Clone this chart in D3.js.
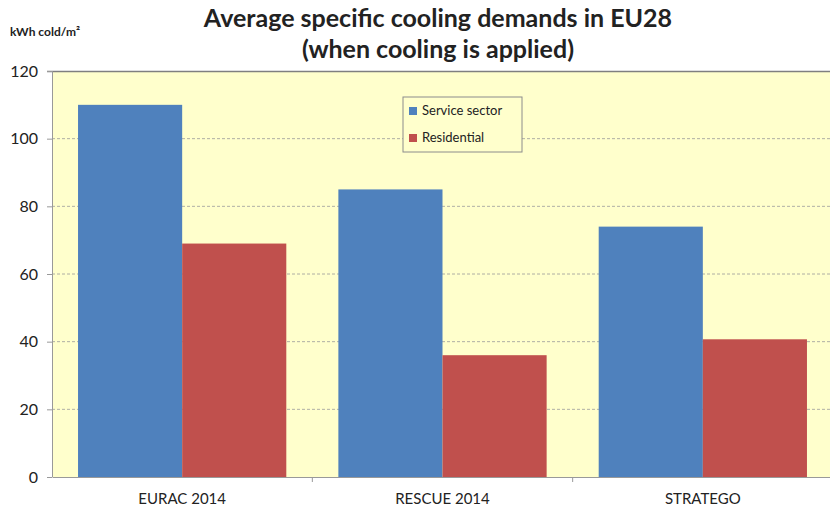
<!DOCTYPE html>
<html>
<head>
<meta charset="utf-8">
<script src="https://cdn.jsdelivr.net/npm/d3@7"></script>
<style>
  body { margin: 0; background: #fff; }
  text { font-family: Lato, "Open Sans", sans-serif; fill: #222; }
</style>
</head>
<body>
<script>
// data
const categories = ["EURAC 2014", "RESCUE 2014", "STRATEGO"];
const seriesNames = ["Service sector", "Residential"];
const service = [110, 85, 74];
const residential = [69, 36, 40.7];
const yTicks = [0, 20, 40, 60, 80, 100, 120];
const colors = ["#4F81BD", "#C0504D"];

const W = 830, H = 517;
const margin = {top: 71, right: -3, bottom: 40, left: 52};
const width = W - margin.left - margin.right,
      height = H - margin.top - margin.bottom;

const svg = d3.select("body").append("svg")
  .attr("width", W).attr("height", H);

const g = svg.append("g")
  .attr("transform", "translate(" + margin.left + "," + margin.top + ")");

// scales
const x = d3.scaleBand().domain(categories).range([0, width]).paddingInner(0).paddingOuter(0);
const x1 = d3.scaleBand().domain(seriesNames).range([0, x.bandwidth()]).paddingOuter(0.25).paddingInner(0);
const y = d3.scaleLinear().domain([0, 120]).range([height, 0]);

// plot background
g.append("rect")
  .attr("width", width).attr("height", height)
  .attr("fill", "#FFFFCC");

// gridlines (dashed)
g.selectAll(".grid")
  .data(yTicks.filter(d => d > 0 && d < 120))
  .join("line")
  .attr("x1", 0).attr("x2", width)
  .attr("y1", d => y(d)).attr("y2", d => y(d))
  .attr("stroke", "#9a9a9a")
  .attr("stroke-dasharray", "3,2")
  .attr("stroke-width", 0.8);

// top border line
g.append("line")
  .attr("x1", -5).attr("x2", width)
  .attr("y1", 0.5).attr("y2", 0.5)
  .attr("stroke", "#7f7f7f").attr("stroke-width", 1.5);

// bars
const rows = categories.map((c, i) => ({cat: c, values: [service[i], residential[i]]}));
const groups = g.selectAll(".grp")
  .data(rows)
  .join("g")
  .attr("transform", d => "translate(" + x(d.cat) + ",0)");

groups.selectAll("rect")
  .data(d => d.values.map((v, j) => ({name: seriesNames[j], value: v, j: j})))
  .join("rect")
  .attr("x", d => x1(d.name))
  .attr("width", x1.bandwidth())
  .attr("y", d => y(d.value))
  .attr("height", d => height - y(d.value))
  .attr("fill", d => colors[d.j]);

// y axis
const yAxis = g.append("g")
  .call(d3.axisLeft(y).tickValues(yTicks).tickSize(5).tickPadding(9).tickFormat(d3.format("d")));
yAxis.select(".domain").attr("stroke", "#999").attr("d", "M0.5," + (height) + "V0");
yAxis.selectAll(".tick line").attr("stroke", "#999");
yAxis.selectAll(".tick text").style("font-size", "16px").attr("fill", "#222");

// x axis
const xAxis = g.append("g")
  .attr("transform", "translate(0," + height + ")")
  .call(d3.axisBottom(x).tickSize(0).tickPadding(16));
xAxis.select(".domain").attr("stroke", "#999");
xAxis.selectAll(".tick text").style("font-size", "15px").attr("fill", "#222");
// category separators
xAxis.selectAll(".sep")
  .data(categories.slice(1))
  .join("line")
  .attr("x1", d => x(d)).attr("x2", d => x(d))
  .attr("y1", 0).attr("y2", 5)
  .attr("stroke", "#999");

// legend
const legend = g.append("g").attr("transform", "translate(351,26)");
legend.append("rect")
  .attr("width", 119).attr("height", 55)
  .attr("fill", "#FFFFCC")
  .attr("stroke", "#8c8c8c").attr("stroke-width", 1);
seriesNames.forEach((s, i) => {
  legend.append("rect")
    .attr("x", 6).attr("y", 10 + i * 27)
    .attr("width", 8).attr("height", 8)
    .attr("fill", colors[i]);
  legend.append("text")
    .attr("x", 19).attr("y", 18 + i * 27)
    .style("font-size", "13px")
    .text(s);
});

// titles
svg.append("text")
  .attr("x", 438).attr("y", 27)
  .attr("text-anchor", "middle")
  .style("font-size", "25px").style("font-weight", "bold")
  .text("Average specific cooling demands in EU28");
svg.append("text")
  .attr("x", 438).attr("y", 58)
  .attr("text-anchor", "middle")
  .style("font-size", "25px").style("font-weight", "bold")
  .text("(when cooling is applied)");

svg.append("text")
  .attr("x", 10).attr("y", 36)
  .style("font-size", "12px").style("font-weight", "bold")
  .text("kWh cold/m²");
</script>
</body>
</html>
